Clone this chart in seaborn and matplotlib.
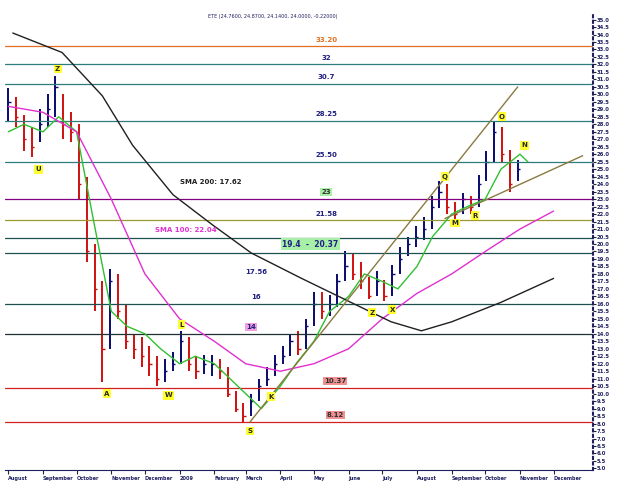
import pandas as pd
import numpy as np
import seaborn as sns
import matplotlib.pyplot as plt

# ----------------- Data (weekly) -----------------
week_start = "2008-08-01"
closes = [29.5, 28.5, 27.0, 26.5, 28.0, 29.0, 30.5, 28.0, 27.5, 24.0, 19.5, 17.0, 13.0, 17.5,
          15.5, 13.5, 13.0, 12.5, 12.0, 11.0, 11.5, 12.0, 13.5, 12.0, 11.5, 12.0, 12.0, 11.5,
          10.0, 9.0, 8.5, 9.5, 10.5, 11.0, 12.0, 12.5, 13.5, 13.0, 14.5, 16.0, 15.5, 16.0,
          17.5, 18.5, 18.0, 17.5, 16.5, 17.5, 16.5, 18.0, 19.0, 20.0, 20.5, 21.0, 22.5, 23.5,
          22.5, 22.0, 23.0, 22.5, 24.0, 25.5, 27.5, 26.0, 24.0, 25.0]
highs = [30.4, 29.8, 28.6, 27.8, 29.0, 30.0, 31.2, 30.0, 28.8, 28.0, 24.5, 20.0, 17.5, 18.3,
         18.0, 16.0, 14.0, 13.8, 13.2, 12.5, 12.3, 12.8, 14.2, 13.8, 12.5, 12.6, 12.6, 12.3,
         11.8, 10.2, 9.4, 10.0, 11.0, 11.8, 12.6, 13.2, 14.0, 14.2, 15.0, 16.8, 16.8, 16.6,
         18.0, 19.5, 19.3, 18.8, 17.8, 18.2, 17.6, 18.6, 19.8, 20.5, 21.2, 21.8, 23.2, 24.2,
         24.0, 22.8, 23.4, 23.2, 24.6, 26.2, 28.2, 27.8, 26.3, 25.6]
lows = [28.2, 27.8, 26.2, 25.8, 26.8, 27.8, 28.5, 27.0, 26.8, 23.0, 18.8, 15.5, 10.8, 13.0,
        15.0, 13.0, 12.3, 11.8, 11.2, 10.5, 10.8, 11.5, 12.0, 11.5, 11.0, 11.3, 11.2, 11.0,
        9.8, 8.8, 8.1, 8.5, 9.5, 10.5, 11.2, 12.0, 12.5, 12.6, 13.0, 14.5, 15.0, 15.2,
        15.8, 17.5, 17.6, 17.0, 16.3, 16.5, 16.2, 16.5, 18.0, 19.2, 19.8, 20.3, 21.0, 22.4,
        22.0, 21.5, 22.0, 22.0, 22.5, 24.2, 25.5, 25.5, 23.5, 24.2]

sma20_dates = ["2008-08-01", "2008-08-15", "2008-09-01", "2008-09-15", "2008-10-01", "2008-10-15",
               "2008-11-01", "2008-11-15", "2008-12-01", "2008-12-15", "2009-01-01", "2009-01-15",
               "2009-02-01", "2009-02-15", "2009-03-01", "2009-03-15", "2009-04-01", "2009-04-15",
               "2009-05-01", "2009-05-15", "2009-06-01", "2009-06-15", "2009-07-01", "2009-07-15",
               "2009-08-01", "2009-08-15", "2009-09-01", "2009-09-15", "2009-10-01", "2009-10-15",
               "2009-11-01", "2009-11-08"]
sma20_vals = [27.5, 28.0, 27.5, 28.5, 27.5, 22.0, 15.5, 14.5, 14.0, 13.0, 12.0, 12.5, 12.0, 11.0,
              10.0, 9.0, 10.5, 12.0, 13.5, 15.5, 16.5, 18.0, 17.5, 17.0, 18.5, 20.5, 22.0, 22.5,
              23.0, 25.0, 26.0, 25.5]

sma100_dates = ["2008-08-01", "2008-09-01", "2008-10-01", "2008-11-01", "2008-12-01", "2009-01-01",
                "2009-02-01", "2009-03-01", "2009-04-01", "2009-05-01", "2009-06-01", "2009-07-01",
                "2009-08-01", "2009-09-01", "2009-10-01", "2009-11-01", "2009-12-01"]
sma100_vals = [29.2, 28.8, 27.5, 23.0, 18.0, 15.0, 13.5, 12.0, 11.5, 12.0, 13.0, 15.0,
               16.7, 18.0, 19.5, 21.0, 22.2]

sma200_dates = ["2008-08-05", "2008-09-18", "2008-10-24", "2008-11-20", "2008-12-26", "2009-01-30",
                "2009-03-06", "2009-04-20", "2009-06-03", "2009-07-09", "2009-08-05", "2009-09-01",
                "2009-10-15", "2009-12-01"]
sma200_vals = [34.1, 32.8, 29.9, 26.6, 23.3, 21.3, 19.4, 17.7, 16.1, 14.8, 14.2, 14.8, 16.1, 17.7]

# horizontal levels: value, color, label, label box color
levels = [(33.20, "#e07020", "33.20", None), (32.0, "#2e7d7d", "32", None),
          (30.7, "#2e7d7d", "30.7", None), (28.25, "#2e7d7d", "28.25", None),
          (25.50, "#2e7d7d", "25.50", None), (23.0, "#800080", "23", "#a8f0a8"),
          (21.58, "#9a9a30", "21.58", None), (20.37, "#1f5050", None, None),
          (19.4, "#1f5050", None, None), (16.0, "#1f5050", None, None),
          (14.0, "#1f3030", None, None), (10.37, "#d02020", "10.37", "#f09090"),
          (8.12, "#d02020", "8.12", "#f09090")]

points = [("U", "2008-08-28", 25.0), ("Z", "2008-09-14", 31.7), ("A", "2008-10-28", 10.0),
          ("W", "2008-12-22", 9.9), ("L", "2009-01-03", 14.6), ("S", "2009-03-05", 7.5),
          ("K", "2009-03-24", 9.8), ("Z", "2009-06-22", 15.4), ("X", "2009-07-10", 15.6),
          ("Q", "2009-08-26", 24.5), ("M", "2009-09-04", 21.4), ("R", "2009-09-22", 21.9),
          ("O", "2009-10-16", 28.5), ("N", "2009-11-05", 26.6)]

month_ticks = pd.date_range("2008-08-01", "2009-12-01", freq="MS")
month_names = ["August", "September", "October", "November", "December", "2009", "February",
               "March", "April", "May", "June", "July", "August", "September", "October",
               "November", "December"]

# ----------------- Plot -----------------
sns.set_style("white")
fig = plt.figure(figsize=(6.2, 4.83), dpi=100)
ax = fig.add_axes([0.008, 0.027, 0.948, 0.948])

dates = pd.date_range(week_start, periods=len(closes), freq="7D")
prev = [closes[0]] + closes[:-1]
for d, o, h, l, c in zip(dates, prev, highs, lows, closes):
    col = "#0a0a70" if c >= o else "#d01010"
    ax.vlines(d, l, h, color=col, lw=1.4)
    ax.hlines(c, d, d + pd.Timedelta(days=2), color=col, lw=1.0)

label_x = pd.Timestamp("2009-05-12")
for val, col, lab, box in levels:
    ax.axhline(val, color=col, lw=0.9)
    if lab:
        kw = dict(ha="center", va="bottom", fontsize=5, fontweight="bold",
                  color="#e07020" if val == 33.2 else ("#202080" if box is None else "#303030"))
        if box:
            kw["bbox"] = dict(boxstyle="square,pad=0.15", fc=box, ec="none")
        xpos = label_x if box is None or val == 23 else pd.Timestamp("2009-05-20")
        ax.text(xpos, val + 0.25, lab, **kw)

ax.text(pd.Timestamp("2009-04-28"), 20.0, "19.4  -  20.37", ha="center", va="center", fontsize=5.5,
        fontweight="bold", color="#202080", bbox=dict(boxstyle="square,pad=0.2", fc="#a8f0a8", ec="none"))
ax.text(pd.Timestamp("2009-03-10"), 18.0, "17.56", ha="center", fontsize=5, fontweight="bold", color="#202080")
ax.text(pd.Timestamp("2009-03-10"), 16.3, "16", ha="center", fontsize=5, fontweight="bold", color="#202080")
ax.text(pd.Timestamp("2009-03-06"), 14.3, "14", ha="center", fontsize=5, fontweight="bold", color="#202080",
        bbox=dict(boxstyle="square,pad=0.15", fc="#f0a0e0", ec="none"))

sma = pd.concat([
    pd.DataFrame({"date": pd.to_datetime(sma20_dates), "value": sma20_vals, "sma": "20"}),
    pd.DataFrame({"date": pd.to_datetime(sma100_dates), "value": sma100_vals, "sma": "100"}),
    pd.DataFrame({"date": pd.to_datetime(sma200_dates), "value": sma200_vals, "sma": "200"}),
])
sns.lineplot(data=sma, x="date", y="value", hue="sma", ax=ax, legend=False, lw=1.0,
             palette={"20": "#30c030", "100": "#e030d0", "200": "#202020"})

ax.text(pd.Timestamp("2009-01-01"), 24.0, "SMA 200: 17.62", fontsize=5, fontweight="bold", color="#202020")
ax.text(pd.Timestamp("2008-12-10"), 20.8, "SMA 100: 22.04", fontsize=5, fontweight="bold", color="#e030d0")

# trend lines
ax.plot(pd.to_datetime(["2009-03-05", "2009-10-30"]), [8.12, 30.5], color="#8a7a40", lw=1.0)
ax.plot(pd.to_datetime(["2009-08-26", "2009-12-27"]), [21.7, 25.9], color="#8a7a40", lw=1.0)

for lab, d, v in points:
    ax.text(pd.Timestamp(d), v, lab, ha="center", va="center", fontsize=5, fontweight="bold",
            bbox=dict(boxstyle="square,pad=0.2", fc="#ffff30", ec="none"))

ax.text(pd.Timestamp("2009-03-25"), 35.1, "ETE (24.7600, 24.8700, 24.1400, 24.0000, -0.22000)",
        ha="center", fontsize=3.5, color="#202060")

ax.set_xlim(pd.Timestamp("2008-07-29"), pd.Timestamp("2010-01-05"))
ax.set_ylim(4.9, 35.5)
ax.yaxis.tick_right()
ax.set_yticks(np.arange(5.0, 35.01, 0.5))
ax.set_yticklabels([f"{v:.1f}" for v in np.arange(5.0, 35.01, 0.5)], fontsize=3.8,
                   color="#202060", fontweight="bold")
ax.tick_params(axis="y", length=2, pad=1, direction="out", right=True)
ax.set_xticks(month_ticks)
ax.set_xticklabels(month_names, fontsize=3.6, color="#202060", ha="left", fontweight="bold")
ax.tick_params(axis="x", length=3, pad=1, bottom=True)
ax.set_xlabel("")
ax.set_ylabel("")
for s in ["top", "left"]:
    ax.spines[s].set_visible(False)
ax.spines["right"].set_linestyle(":")
ax.spines["right"].set_linewidth(1.5)
ax.spines["right"].set_color("#202060")
ax.spines["bottom"].set_color("#202060")

fig.savefig("out.png", dpi=100)
